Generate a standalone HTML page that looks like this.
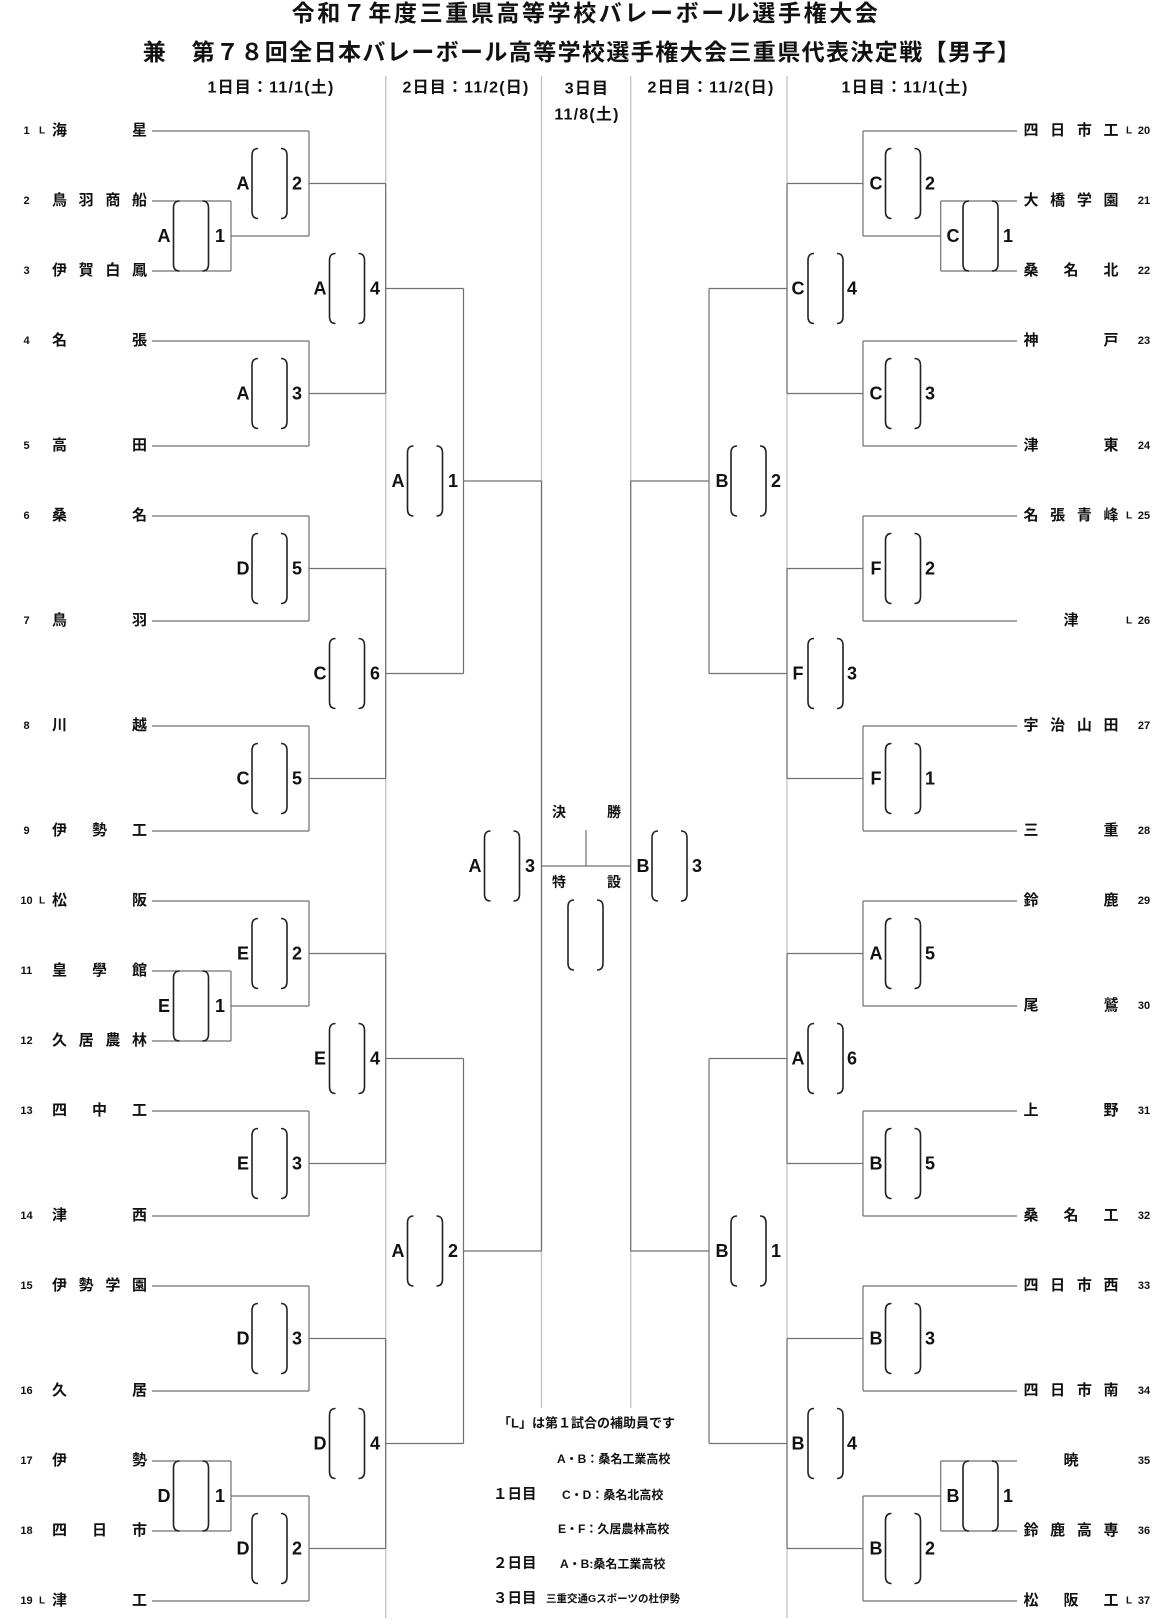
<!DOCTYPE html>
<html><head><meta charset="utf-8">
<style>
html,body{margin:0;padding:0;background:#fff;}
body{width:1165px;height:1624px;position:relative;overflow:hidden;font-family:"Liberation Sans","Noto Sans CJK JP",sans-serif;font-weight:bold;color:#111;}
svg{position:absolute;left:0;top:0;}
svg text{font-family:"Liberation Sans","Noto Sans CJK JP",sans-serif;font-weight:bold;fill:#111;}
.nm{position:absolute;width:95px;height:20px;line-height:20px;font-size:15px;text-align:justify;text-align-last:justify;}
.ct{text-align:center;text-align-last:center;}
.L{left:52px;}
.R{left:1023.5px;}
</style></head>
<body>
<svg width="1165" height="1624" viewBox="0 0 1165 1624">
<defs>
<g id="pp"><path d="M6 0Q0 0 0 7V63Q0 70 6 70M29 0Q35 0 35 7V63Q35 70 29 70" fill="none" stroke="#222" stroke-width="1.6"/></g>
</defs>
<!-- separators -->
<path d="M385.7 76V1618M541.5 76V1408M630.7 76V1408M787 76V1618" stroke="#c2c2c2" stroke-width="1.3" fill="none"/>
<!-- left connectors -->
<path fill="none" stroke="#707070" stroke-width="1.2" d="
M152 131H309M152 201H231M152 271H231M152 341H309M152 446H309M152 516H309M152 621H309M152 726H309M152 831H309M152 901H309M152 971H231M152 1041H231M152 1111H309M152 1216H309M152 1286H309M152 1391H309M152 1461H231M152 1531H231M152 1601H309
M231 201V271M231 236H309M231 971V1041M231 1006H309M231 1461V1531M231 1496H309
M309 131V236M309 341V446M309 516V621M309 726V831M309 901V1006M309 1111V1216M309 1286V1391M309 1496V1601
M309 183.5H385.7M309 393.5H385.7M309 568.5H385.7M309 778.5H385.7M309 953.5H385.7M309 1163.5H385.7M309 1338.5H385.7M309 1548.5H385.7
M385.7 183.5V393.5M385.7 568.5V778.5M385.7 953.5V1163.5M385.7 1338.5V1548.5
M385.7 288.5H463.5M385.7 673.5H463.5M385.7 1058.5H463.5M385.7 1443.5H463.5
M463.5 288.5V673.5M463.5 1058.5V1443.5M463.5 481H541.5M463.5 1251H541.5
M541.5 481V1251M541.5 866H630.7M586 830V866
"/>
<!-- right connectors -->
<path fill="none" stroke="#707070" stroke-width="1.2" d="
M863 131H1017M940.7 201H1017M940.7 271H1017M863 341H1017M863 446H1017M863 516H1017M863 621H1017M863 726H1017M863 831H1017M863 901H1017M863 1006H1017M863 1111H1017M863 1216H1017M863 1286H1017M863 1391H1017M940.7 1461H1017M940.7 1531H1017M863 1601H1017
M940.7 201V271M863 236H940.7M940.7 1461V1531M863 1496H940.7
M863 131V236M863 341V446M863 516V621M863 726V831M863 901V1006M863 1111V1216M863 1286V1391M863 1496V1601
M787 183.5H863M787 393.5H863M787 568.5H863M787 778.5H863M787 953.5H863M787 1163.5H863M787 1338.5H863M787 1548.5H863
M787 183.5V393.5M787 568.5V778.5M787 953.5V1163.5M787 1338.5V1548.5
M709 288.5H787M709 673.5H787M709 1058.5H787M709 1443.5H787
M709 288.5V673.5M709 1058.5V1443.5M630.7 481H709M630.7 1251H709
M630.7 481V1251
"/>
<!-- parens left -->
<use href="#pp" x="173.5" y="201"/><use href="#pp" x="173.5" y="971"/><use href="#pp" x="173.5" y="1461"/>
<use href="#pp" x="252" y="148.5"/><use href="#pp" x="252" y="358.5"/><use href="#pp" x="252" y="533.5"/><use href="#pp" x="252" y="743.5"/><use href="#pp" x="252" y="918.5"/><use href="#pp" x="252" y="1128.5"/><use href="#pp" x="252" y="1303.5"/><use href="#pp" x="252" y="1513.5"/>
<use href="#pp" x="329.5" y="253.5"/><use href="#pp" x="329.5" y="638.5"/><use href="#pp" x="329.5" y="1023.5"/><use href="#pp" x="329.5" y="1408.5"/>
<use href="#pp" x="407.5" y="446"/><use href="#pp" x="407.5" y="1216"/>
<use href="#pp" x="484.5" y="831"/>
<!-- parens right -->
<use href="#pp" x="963" y="201"/><use href="#pp" x="963" y="1461"/>
<use href="#pp" x="885.5" y="148.5"/><use href="#pp" x="885.5" y="358.5"/><use href="#pp" x="885.5" y="533.5"/><use href="#pp" x="885.5" y="743.5"/><use href="#pp" x="885.5" y="918.5"/><use href="#pp" x="885.5" y="1128.5"/><use href="#pp" x="885.5" y="1303.5"/><use href="#pp" x="885.5" y="1513.5"/>
<use href="#pp" x="808" y="253.5"/><use href="#pp" x="808" y="638.5"/><use href="#pp" x="808" y="1023.5"/><use href="#pp" x="808" y="1408.5"/>
<use href="#pp" x="731" y="446"/><use href="#pp" x="731" y="1216"/>
<use href="#pp" x="652" y="831"/>
<use href="#pp" x="568" y="900"/>

<!-- titles -->
<text x="586" y="13" font-size="23" letter-spacing="2.6" text-anchor="middle" dominant-baseline="central">令和７年度三重県高等学校バレーボール選手権大会</text>
<text x="582" y="52" font-size="23" letter-spacing="1.4" text-anchor="middle" dominant-baseline="central">兼　第７８回全日本バレーボール高等学校選手権大会三重県代表決定戦【男子】</text>

<!-- headers -->
<g font-size="16" letter-spacing="1.2" text-anchor="middle" dominant-baseline="central">
<text x="271" y="88">1日目：11/1(土)</text>
<text x="466" y="88">2日目：11/2(日)</text>
<text x="587" y="89">3日目</text>
<text x="587" y="115">11/8(土)</text>
<text x="711" y="88">2日目：11/2(日)</text>
<text x="905" y="88">1日目：11/1(土)</text>
</g>

<!-- center labels -->
<g font-size="14" text-anchor="middle" dominant-baseline="central">
<text x="559" y="812">決</text><text x="614" y="812">勝</text>
<text x="559" y="882">特</text><text x="614" y="882">設</text>
</g>

<!-- match labels -->
<g font-size="18" text-anchor="middle" dominant-baseline="central">
<text x="164" y="236">A</text><text x="220" y="236">1</text>
<text x="164" y="1006">E</text><text x="220" y="1006">1</text>
<text x="164" y="1496">D</text><text x="220" y="1496">1</text>
<text x="243" y="183.5">A</text><text x="297" y="183.5">2</text>
<text x="243" y="393.5">A</text><text x="297" y="393.5">3</text>
<text x="243" y="568.5">D</text><text x="297" y="568.5">5</text>
<text x="243" y="778.5">C</text><text x="297" y="778.5">5</text>
<text x="243" y="953.5">E</text><text x="297" y="953.5">2</text>
<text x="243" y="1163.5">E</text><text x="297" y="1163.5">3</text>
<text x="243" y="1338.5">D</text><text x="297" y="1338.5">3</text>
<text x="243" y="1548.5">D</text><text x="297" y="1548.5">2</text>
<text x="320" y="288.5">A</text><text x="375" y="288.5">4</text>
<text x="320" y="673.5">C</text><text x="375" y="673.5">6</text>
<text x="320" y="1058.5">E</text><text x="375" y="1058.5">4</text>
<text x="320" y="1443.5">D</text><text x="375" y="1443.5">4</text>
<text x="398" y="481">A</text><text x="453" y="481">1</text>
<text x="398" y="1251">A</text><text x="453" y="1251">2</text>
<text x="475" y="866">A</text><text x="530" y="866">3</text>

<text x="953" y="236">C</text><text x="1008" y="236">1</text>
<text x="953" y="1496">B</text><text x="1008" y="1496">1</text>
<text x="876" y="183.5">C</text><text x="930" y="183.5">2</text>
<text x="876" y="393.5">C</text><text x="930" y="393.5">3</text>
<text x="876" y="568.5">F</text><text x="930" y="568.5">2</text>
<text x="876" y="778.5">F</text><text x="930" y="778.5">1</text>
<text x="876" y="953.5">A</text><text x="930" y="953.5">5</text>
<text x="876" y="1163.5">B</text><text x="930" y="1163.5">5</text>
<text x="876" y="1338.5">B</text><text x="930" y="1338.5">3</text>
<text x="876" y="1548.5">B</text><text x="930" y="1548.5">2</text>
<text x="798" y="288.5">C</text><text x="852" y="288.5">4</text>
<text x="798" y="673.5">F</text><text x="852" y="673.5">3</text>
<text x="798" y="1058.5">A</text><text x="852" y="1058.5">6</text>
<text x="798" y="1443.5">B</text><text x="852" y="1443.5">4</text>
<text x="722" y="481">B</text><text x="776" y="481">2</text>
<text x="722" y="1251">B</text><text x="776" y="1251">1</text>
<text x="643" y="866">B</text><text x="697" y="866">3</text>
</g>

<!-- seed numbers left -->
<g font-size="11" text-anchor="middle" dominant-baseline="central">
<text x="26.5" y="131">1</text><text x="26.5" y="201">2</text><text x="26.5" y="271">3</text><text x="26.5" y="341">4</text><text x="26.5" y="446">5</text><text x="26.5" y="516">6</text><text x="26.5" y="621">7</text><text x="26.5" y="726">8</text><text x="26.5" y="831">9</text><text x="26.5" y="901">10</text><text x="26.5" y="971">11</text><text x="26.5" y="1041">12</text><text x="26.5" y="1111">13</text><text x="26.5" y="1216">14</text><text x="26.5" y="1286">15</text><text x="26.5" y="1391">16</text><text x="26.5" y="1461">17</text><text x="26.5" y="1531">18</text><text x="26.5" y="1601">19</text>
<text x="1144" y="131">20</text><text x="1144" y="201">21</text><text x="1144" y="271">22</text><text x="1144" y="341">23</text><text x="1144" y="446">24</text><text x="1144" y="516">25</text><text x="1144" y="621">26</text><text x="1144" y="726">27</text><text x="1144" y="831">28</text><text x="1144" y="901">29</text><text x="1144" y="1006">30</text><text x="1144" y="1111">31</text><text x="1144" y="1216">32</text><text x="1144" y="1286">33</text><text x="1144" y="1391">34</text><text x="1144" y="1461">35</text><text x="1144" y="1531">36</text><text x="1144" y="1601">37</text>
</g>
<g font-size="10" text-anchor="middle" dominant-baseline="central">
<text x="42" y="131">L</text><text x="42" y="901">L</text><text x="42" y="1601">L</text>
<text x="1129" y="131">L</text><text x="1129" y="516">L</text><text x="1129" y="621">L</text><text x="1129" y="1601">L</text>
</g>

<!-- notes -->
<g dominant-baseline="central">
<text x="498" y="1423" font-size="13">「L」は第１試合の補助員です</text>
<text x="557" y="1459" font-size="12">A・B：桑名工業高校</text>
<text x="493" y="1495" font-size="14.5">１日目</text>
<text x="562" y="1495" font-size="12">C・D：桑名北高校</text>
<text x="558" y="1529" font-size="12">E・F：久居農林高校</text>
<text x="493" y="1564" font-size="14.5">２日目</text>
<text x="560" y="1564" font-size="12">A・B:桑名工業高校</text>
<text x="493" y="1599" font-size="14.5">３日目</text>
<text x="546" y="1599" font-size="10.5">三重交通Gスポーツの杜伊勢</text>
</g>
</svg>

<!-- left names -->
<div class="nm L" style="top:121px">海 星</div>
<div class="nm L" style="top:191px">鳥 羽 商 船</div>
<div class="nm L" style="top:261px">伊 賀 白 鳳</div>
<div class="nm L" style="top:331px">名 張</div>
<div class="nm L" style="top:436px">高 田</div>
<div class="nm L" style="top:506px">桑 名</div>
<div class="nm L" style="top:611px">鳥 羽</div>
<div class="nm L" style="top:716px">川 越</div>
<div class="nm L" style="top:821px">伊 勢 工</div>
<div class="nm L" style="top:891px">松 阪</div>
<div class="nm L" style="top:961px">皇 學 館</div>
<div class="nm L" style="top:1031px">久 居 農 林</div>
<div class="nm L" style="top:1101px">四 中 工</div>
<div class="nm L" style="top:1206px">津 西</div>
<div class="nm L" style="top:1276px">伊 勢 学 園</div>
<div class="nm L" style="top:1381px">久 居</div>
<div class="nm L" style="top:1451px">伊 勢</div>
<div class="nm L" style="top:1521px">四 日 市</div>
<div class="nm L" style="top:1591px">津 工</div>

<!-- right names -->
<div class="nm R" style="top:121px">四 日 市 工</div>
<div class="nm R" style="top:191px">大 橋 学 園</div>
<div class="nm R" style="top:261px">桑 名 北</div>
<div class="nm R" style="top:331px">神 戸</div>
<div class="nm R" style="top:436px">津 東</div>
<div class="nm R" style="top:506px">名 張 青 峰</div>
<div class="nm R ct" style="top:611px">津</div>
<div class="nm R" style="top:716px">宇 治 山 田</div>
<div class="nm R" style="top:821px">三 重</div>
<div class="nm R" style="top:891px">鈴 鹿</div>
<div class="nm R" style="top:996px">尾 鷲</div>
<div class="nm R" style="top:1101px">上 野</div>
<div class="nm R" style="top:1206px">桑 名 工</div>
<div class="nm R" style="top:1276px">四 日 市 西</div>
<div class="nm R" style="top:1381px">四 日 市 南</div>
<div class="nm R ct" style="top:1451px">暁</div>
<div class="nm R" style="top:1521px">鈴 鹿 高 専</div>
<div class="nm R" style="top:1591px">松 阪 工</div>
</body></html>
